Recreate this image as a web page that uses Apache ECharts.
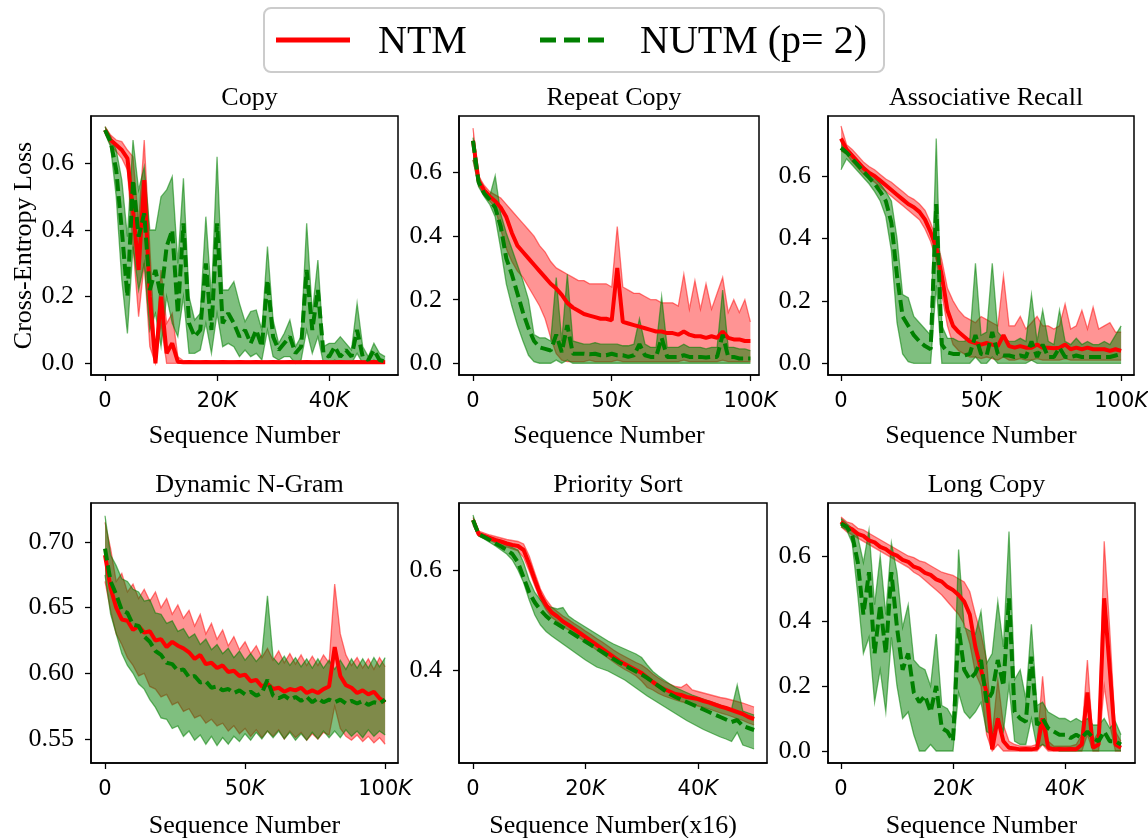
<!DOCTYPE html>
<html><head><meta charset="utf-8">
<script src="https://cdn.jsdelivr.net/npm/echarts@6/dist/echarts.min.js"></script>
<style>html,body{margin:0;padding:0;background:#fff}#c{width:1148px;height:838px}</style>
</head><body><div id="c"></div>
<script>
// ---------------- data ----------------
const xTicks50 = [0, 20000, 40000];
const xTicks100 = [0, 50000, 100000];
const yTicksLoss = [0, 0.2, 0.4, 0.6];
const yTicksNgram = [0.55, 0.60, 0.65, 0.70];
const yTicksSort = [0.4, 0.6];

// Copy (sampled every 1K)
const copyNtmMean = [0.70,0.67,0.655,0.64,0.615,0.46,0.28,0.55,0.20,0.00,
 0.20,0.03,0.06,0.005,0.003,0.004,0.003,0.003,0.004,0.003,
 0.003,0.004,0.003,0.003,0.004,0.003,0.003,0.004,0.003,0.003,
 0.004,0.003,0.003,0.004,0.003,0.003,0.004,0.003,0.003,0.004,
 0.003,0.003,0.004,0.003,0.003,0.004,0.003,0.003,0.004,0.003,0.003];
const copyNtmLo = [0.69,0.655,0.635,0.615,0.58,0.35,0.14,0.30,0.05,0.00,
 0.12,0,0,0,0,0,0,0,0,0, 0,0,0,0,0,0,0,0,0,0, 0,0,0,0,0,0,0,0,0,0, 0,0,0,0,0,0,0,0,0,0, 0];
const copyNtmHi = [0.71,0.685,0.67,0.665,0.64,0.62,0.42,0.67,0.35,0.03,
 0.28,0.12,0.15,0.02,0.008,0.008,0.008,0.008,0.008,0.008,
 0.008,0.008,0.008,0.008,0.008,0.008,0.008,0.008,0.008,0.008,
 0.008,0.008,0.008,0.008,0.008,0.008,0.008,0.008,0.008,0.008,
 0.008,0.008,0.008,0.008,0.008,0.008,0.008,0.008,0.008,0.008,0.008];
const copyNutmMean = [0.70,0.665,0.58,0.40,0.20,0.55,0.38,0.45,0.22,0.28,
 0.20,0.35,0.40,0.15,0.42,0.12,0.08,0.10,0.30,0.10,
 0.42,0.12,0.15,0.12,0.08,0.10,0.06,0.10,0.05,0.25,
 0.08,0.04,0.06,0.08,0.03,0.05,0.28,0.10,0.22,0.03,
 0.02,0.05,0.02,0.04,0.02,0.10,0.02,0.01,0.04,0.01,0.005];
const copyNutmHi = [0.71,0.68,0.64,0.55,0.38,0.67,0.52,0.59,0.40,0.40,
 0.50,0.52,0.56,0.30,0.555,0.20,0.13,0.15,0.44,0.20,
 0.62,0.22,0.22,0.245,0.18,0.125,0.155,0.16,0.10,0.35,
 0.13,0.06,0.09,0.13,0.05,0.08,0.42,0.15,0.31,0.05,
 0.06,0.06,0.08,0.06,0.04,0.18,0.05,0.02,0.06,0.03,0.02];
const copyNutmLo = [0.69,0.65,0.50,0.25,0.09,0.35,0.22,0.30,0.10,0.15,
 0.05,0.20,0.12,0.08,0.20,0.03,0.03,0.04,0.12,0.03,
 0.15,0.05,0.06,0.05,0.02,0.04,0.02,0.03,0.01,0.10,
 0.02,0.01,0.02,0.02,0.00,0.01,0.10,0.03,0.08,0.00,
 0.00,0.01,0.00,0.00,0.00,0.03,0.00,0.00,0.01,0.00,0.00];

// Repeat Copy (sampled every 2K)
const rcNtmMean = [0.70,0.575,0.545,0.525,0.51,0.49,0.46,0.41,0.37,0.35,
 0.33,0.31,0.29,0.27,0.25,0.235,0.215,0.19,0.175,0.165,
 0.155,0.15,0.145,0.14,0.14,0.135,0.30,0.13,0.125,0.12,
 0.115,0.11,0.105,0.10,0.10,0.095,0.095,0.09,0.10,0.09,
 0.085,0.085,0.08,0.085,0.08,0.10,0.08,0.075,0.075,0.07,0.07];
const rcNtmHi = [0.74,0.59,0.56,0.54,0.53,0.52,0.50,0.48,0.46,0.44,
 0.42,0.40,0.37,0.35,0.32,0.30,0.29,0.28,0.27,0.26,
 0.26,0.25,0.25,0.25,0.25,0.24,0.43,0.24,0.23,0.22,
 0.22,0.21,0.20,0.20,0.19,0.19,0.19,0.18,0.28,0.17,
 0.26,0.17,0.25,0.17,0.22,0.27,0.16,0.20,0.16,0.20,0.13];
const rcNtmLo = [0.64,0.56,0.53,0.51,0.49,0.42,0.36,0.32,0.29,0.27,
 0.24,0.21,0.18,0.14,0.08,0.03,0.01,0.005,0.005,0.005,
 0.005,0.01,0.005,0.005,0.005,0.005,0.01,0.005,0.005,0.005,
 0.005,0.005,0.005,0.005,0.005,0.005,0.005,0.005,0.01,0.005,
 0.005,0.005,0.005,0.005,0.005,0.01,0.005,0.005,0.005,0.005,0.005];
const rcNutmMean = [0.70,0.57,0.535,0.515,0.49,0.43,0.33,0.28,0.22,0.16,
 0.11,0.07,0.05,0.045,0.04,0.09,0.035,0.12,0.03,0.03,
 0.03,0.028,0.03,0.025,0.025,0.03,0.025,0.025,0.02,0.025,
 0.06,0.025,0.02,0.02,0.08,0.02,0.02,0.02,0.025,0.02,
 0.02,0.02,0.018,0.02,0.02,0.09,0.02,0.02,0.015,0.015,0.015];
const rcNutmHi = [0.71,0.58,0.545,0.525,0.59,0.47,0.41,0.36,0.31,0.26,
 0.20,0.09,0.08,0.08,0.07,0.27,0.07,0.28,0.07,0.065,
 0.06,0.06,0.065,0.06,0.06,0.06,0.06,0.055,0.055,0.06,
 0.14,0.06,0.05,0.05,0.21,0.05,0.05,0.05,0.06,0.05,
 0.05,0.05,0.045,0.05,0.05,0.23,0.05,0.05,0.045,0.045,0.04];
const rcNutmLo = [0.64,0.555,0.525,0.50,0.46,0.36,0.25,0.18,0.12,0.07,
 0.025,0.005,0,0,0,0.01,0,0.01,0,0,
 0,0,0,0,0,0,0,0,0,0, 0,0,0,0,0,0,0,0,0,0, 0,0,0,0,0,0,0,0,0,0, 0];

// Associative Recall (sampled every 2K)
const arNtmMean = [0.72,0.685,0.665,0.645,0.625,0.61,0.60,0.585,0.57,0.555,
 0.54,0.525,0.51,0.50,0.485,0.46,0.42,0.37,0.28,0.17,
 0.12,0.10,0.085,0.07,0.065,0.06,0.065,0.06,0.055,0.09,
 0.055,0.05,0.055,0.05,0.05,0.06,0.05,0.05,0.048,0.05,
 0.06,0.045,0.05,0.045,0.05,0.045,0.045,0.045,0.04,0.045,0.04];
const arNtmHi = [0.76,0.70,0.685,0.665,0.645,0.63,0.62,0.605,0.59,0.58,
 0.565,0.55,0.535,0.525,0.51,0.49,0.45,0.40,0.33,0.24,
 0.20,0.17,0.15,0.14,0.13,0.15,0.14,0.13,0.12,0.28,
 0.12,0.12,0.15,0.11,0.13,0.15,0.12,0.12,0.11,0.12,
 0.19,0.11,0.12,0.17,0.11,0.18,0.11,0.12,0.13,0.10,0.10];
const arNtmLo = [0.68,0.67,0.645,0.625,0.605,0.59,0.58,0.565,0.55,0.535,
 0.52,0.505,0.49,0.475,0.46,0.43,0.39,0.33,0.22,0.12,
 0.06,0.04,0.03,0.02,0.02,0.015,0.02,0.015,0.01,0.02,
 0.01,0.01,0.015,0.01,0.01,0.015,0.01,0.01,0.01,0.01,
 0.015,0.01,0.01,0.01,0.01,0.01,0.01,0.01,0.01,0.01,0.01];
const arNutmMean = [0.69,0.675,0.655,0.635,0.615,0.595,0.575,0.55,0.52,0.45,
 0.28,0.15,0.12,0.09,0.07,0.055,0.045,0.51,0.06,0.035,
 0.03,0.03,0.025,0.03,0.09,0.03,0.025,0.10,0.03,0.025,
 0.025,0.02,0.025,0.02,0.07,0.02,0.06,0.02,0.02,0.05,
 0.02,0.02,0.025,0.02,0.02,0.02,0.02,0.02,0.02,0.025,0.03];
const arNutmHi = [0.71,0.69,0.67,0.65,0.63,0.615,0.595,0.575,0.55,0.52,
 0.40,0.22,0.21,0.15,0.13,0.11,0.09,0.72,0.12,0.08,
 0.08,0.07,0.07,0.08,0.32,0.09,0.10,0.32,0.10,0.08,
 0.07,0.07,0.08,0.07,0.22,0.07,0.17,0.07,0.06,0.17,
 0.07,0.06,0.08,0.06,0.07,0.06,0.06,0.07,0.06,0.09,0.12];
const arNutmLo = [0.62,0.655,0.635,0.615,0.595,0.575,0.55,0.52,0.47,0.36,
 0.13,0.03,0.005,0,0,0,0,0.25,0,0,
 0,0,0,0,0.02,0,0,0.02,0,0, 0,0,0,0,0.01,0,0,0,0,0, 0,0,0,0,0,0,0,0,0,0, 0];

// Dynamic N-Gram (sampled every 2K)
const ngNtmMean = [0.690,0.665,0.650,0.641,0.640,0.633,0.636,0.631,0.632,0.625,
 0.626,0.620,0.624,0.621,0.619,0.616,0.611,0.614,0.607,0.608,
 0.604,0.606,0.601,0.602,0.598,0.599,0.594,0.595,0.590,0.592,
 0.588,0.589,0.586,0.588,0.587,0.589,0.585,0.587,0.585,0.588,
 0.590,0.620,0.598,0.591,0.589,0.585,0.587,0.584,0.586,0.581,0.578];
const ngNtmHi = [0.715,0.695,0.670,0.676,0.662,0.668,0.657,0.664,0.655,0.662,
 0.650,0.657,0.645,0.652,0.642,0.648,0.636,0.645,0.630,0.638,
 0.626,0.633,0.621,0.628,0.618,0.624,0.615,0.621,0.612,0.619,
 0.610,0.617,0.608,0.615,0.607,0.614,0.606,0.613,0.606,0.614,
 0.608,0.668,0.630,0.614,0.606,0.612,0.604,0.611,0.603,0.612,0.605];
const ngNtmLo = [0.670,0.648,0.630,0.622,0.612,0.606,0.598,0.600,0.590,0.588,
 0.582,0.584,0.576,0.578,0.571,0.573,0.566,0.568,0.562,0.565,
 0.560,0.562,0.556,0.560,0.554,0.558,0.552,0.557,0.551,0.556,
 0.552,0.557,0.550,0.556,0.551,0.555,0.549,0.554,0.550,0.555,
 0.553,0.575,0.558,0.552,0.549,0.553,0.548,0.552,0.547,0.551,0.546];
const ngNutmMean = [0.695,0.670,0.660,0.648,0.646,0.637,0.636,0.628,0.624,0.617,
 0.614,0.608,0.607,0.602,0.603,0.597,0.598,0.593,0.594,0.589,
 0.590,0.587,0.588,0.585,0.587,0.584,0.586,0.583,0.585,0.595,
 0.583,0.581,0.583,0.580,0.582,0.579,0.582,0.578,0.581,0.578,
 0.580,0.578,0.580,0.577,0.579,0.577,0.579,0.576,0.578,0.577,0.580];
const ngNutmHi = [0.720,0.690,0.682,0.672,0.670,0.664,0.662,0.655,0.656,0.646,
 0.645,0.638,0.640,0.632,0.634,0.627,0.630,0.622,0.626,0.618,
 0.622,0.615,0.619,0.612,0.617,0.610,0.615,0.609,0.614,0.659,
 0.612,0.607,0.613,0.606,0.612,0.605,0.611,0.604,0.611,0.604,
 0.610,0.603,0.610,0.603,0.611,0.604,0.611,0.604,0.612,0.605,0.612];
const ngNutmLo = [0.675,0.645,0.630,0.615,0.606,0.600,0.592,0.588,0.580,0.574,
 0.566,0.565,0.558,0.560,0.552,0.556,0.549,0.553,0.546,0.552,
 0.545,0.551,0.546,0.552,0.548,0.554,0.549,0.555,0.550,0.556,
 0.551,0.556,0.550,0.555,0.549,0.554,0.549,0.555,0.550,0.556,
 0.551,0.556,0.551,0.557,0.552,0.556,0.551,0.557,0.552,0.556,0.553];

// Priority Sort (sampled every 1K)
const psNtmMean = [0.70,0.672,0.668,0.664,0.66,0.657,0.653,0.65,0.648,0.64,
 0.612,0.58,0.55,0.53,0.515,0.507,0.497,0.49,0.482,0.474,
 0.466,0.458,0.45,0.442,0.434,0.426,0.418,0.412,0.406,0.40,
 0.394,0.385,0.376,0.368,0.362,0.357,0.352,0.35,0.346,0.344,
 0.342,0.338,0.335,0.331,0.327,0.324,0.32,0.316,0.312,0.306,0.302];
const psNtmHi = [0.705,0.678,0.674,0.670,0.667,0.664,0.661,0.659,0.657,0.652,
 0.628,0.594,0.562,0.541,0.526,0.517,0.508,0.501,0.493,0.486,
 0.478,0.471,0.463,0.456,0.448,0.440,0.433,0.427,0.421,0.415,
 0.410,0.402,0.392,0.384,0.377,0.372,0.367,0.365,0.372,0.360,
 0.357,0.354,0.351,0.348,0.345,0.343,0.340,0.337,0.334,0.330,0.326];
const psNtmLo = [0.695,0.668,0.663,0.659,0.654,0.650,0.646,0.642,0.638,0.625,
 0.598,0.568,0.540,0.520,0.505,0.497,0.487,0.480,0.472,0.464,
 0.456,0.448,0.440,0.432,0.424,0.416,0.408,0.401,0.395,0.388,
 0.378,0.365,0.360,0.353,0.348,0.344,0.340,0.337,0.334,0.331,
 0.328,0.325,0.322,0.318,0.314,0.311,0.307,0.303,0.299,0.294,0.290];
const psNutmMean = [0.70,0.672,0.666,0.66,0.653,0.647,0.64,0.632,0.615,0.585,
 0.555,0.535,0.52,0.508,0.498,0.492,0.485,0.478,0.471,0.464,
 0.457,0.45,0.443,0.436,0.429,0.422,0.415,0.409,0.403,0.397,
 0.391,0.384,0.376,0.368,0.36,0.352,0.346,0.341,0.336,0.331,
 0.326,0.321,0.316,0.311,0.306,0.301,0.296,0.30,0.288,0.284,0.28];
const psNutmHi = [0.71,0.675,0.67,0.665,0.66,0.655,0.65,0.645,0.64,0.615,
 0.58,0.555,0.54,0.53,0.525,0.522,0.525,0.508,0.50,0.493,
 0.486,0.479,0.472,0.465,0.458,0.452,0.447,0.442,0.437,0.432,
 0.425,0.41,0.397,0.388,0.38,0.372,0.365,0.36,0.355,0.35,
 0.346,0.342,0.338,0.334,0.33,0.326,0.322,0.37,0.318,0.314,0.31];
const psNutmLo = [0.69,0.668,0.662,0.655,0.648,0.64,0.632,0.62,0.60,0.575,
 0.54,0.51,0.49,0.477,0.468,0.46,0.452,0.444,0.436,0.428,
 0.42,0.413,0.406,0.402,0.398,0.392,0.386,0.38,0.372,0.364,
 0.356,0.348,0.341,0.334,0.327,0.32,0.313,0.306,0.299,0.293,
 0.287,0.281,0.276,0.271,0.266,0.262,0.257,0.275,0.25,0.246,0.242];

// Long Copy (sampled every 1K)
const lcNtmMean = [0.705,0.69,0.682,0.668,0.662,0.648,0.642,0.628,0.621,0.608,
 0.601,0.588,0.582,0.567,0.561,0.548,0.542,0.528,0.521,0.505,
 0.495,0.48,0.46,0.42,0.32,0.25,0.18,0.005,0.10,0.03,
 0.01,0.008,0.005,0.006,0.005,0.008,0.10,0.01,0.005,0.006,
 0.005,0.006,0.005,0.02,0.18,0.01,0.02,0.47,0.25,0.02,0.01];
const lcNtmHi = [0.72,0.705,0.70,0.685,0.68,0.67,0.66,0.65,0.64,0.63,
 0.62,0.61,0.60,0.595,0.585,0.58,0.57,0.56,0.55,0.545,
 0.54,0.53,0.52,0.49,0.42,0.36,0.28,0.05,0.22,0.08,
 0.03,0.02,0.015,0.015,0.015,0.02,0.23,0.03,0.015,0.015,
 0.015,0.015,0.02,0.05,0.28,0.03,0.06,0.645,0.37,0.06,0.03];
const lcNtmLo = [0.69,0.675,0.665,0.655,0.645,0.635,0.625,0.615,0.605,0.595,
 0.585,0.575,0.565,0.55,0.54,0.525,0.51,0.495,0.48,0.46,
 0.44,0.42,0.39,0.33,0.24,0.20,0.05,0,0.02,0,
 0,0,0,0,0,0,0.02,0,0,0,
 0,0,0,0,0.05,0,0,0.2,0.08,0,0];
const lcNutmMean = [0.70,0.69,0.665,0.58,0.42,0.55,0.30,0.45,0.30,0.55,
 0.38,0.25,0.30,0.18,0.15,0.17,0.12,0.20,0.07,0.06,
 0.03,0.38,0.25,0.22,0.24,0.28,0.15,0.18,0.28,0.20,
 0.47,0.12,0.10,0.09,0.29,0.08,0.10,0.07,0.06,0.05,
 0.05,0.04,0.05,0.04,0.06,0.04,0.03,0.06,0.03,0.03,0.02];
const lcNutmHi = [0.715,0.70,0.685,0.66,0.58,0.68,0.45,0.60,0.42,0.64,
 0.55,0.38,0.45,0.28,0.26,0.25,0.20,0.36,0.14,0.13,
 0.10,0.62,0.38,0.37,0.36,0.43,0.27,0.30,0.46,0.32,
 0.675,0.22,0.25,0.16,0.39,0.14,0.15,0.12,0.11,0.10,
 0.10,0.09,0.10,0.09,0.10,0.08,0.08,0.10,0.07,0.09,0.05];
const lcNutmLo = [0.69,0.68,0.64,0.48,0.30,0.35,0.15,0.25,0.12,0.35,
 0.20,0.10,0.12,0.05,0,0,0.02,0,0,0,
 0,0.18,0.12,0.10,0.12,0.15,0.06,0.05,0.10,0.06,
 0.20,0.03,0.02,0.02,0.10,0.01,0.02,0.01,0.01,0,
 0,0,0,0,0,0,0,0,0,0,0];

// ---------------- chart ----------------
const RED = '#ff0000', GREEN = '#008000';
const SERIF = 'Liberation Serif';

const panels = [
  {title:'Copy', xName:'Sequence Number', box:[91,116,307,259], xr:[-2500,52300], yr:[-0.035,0.742], xt:xTicks50, yt:yTicksLoss, yd:1, step:1000, ntm:[copyNtmMean,copyNtmLo,copyNtmHi], nutm:[copyNutmMean,copyNutmLo,copyNutmHi], yName:'Cross-Entropy Loss'},
  {title:'Repeat Copy', xName:'Sequence Number', box:[459,116,300,259], xr:[-5050,103100], yr:[-0.037,0.778], xt:xTicks100, yt:yTicksLoss, yd:1, step:2000, ntm:[rcNtmMean,rcNtmLo,rcNtmHi], nutm:[rcNutmMean,rcNutmLo,rcNutmHi]},
  {title:'Associative Recall', xName:'Sequence Number', box:[828,116,306,259], xr:[-4640,104600], yr:[-0.0375,0.792], xt:xTicks100, yt:yTicksLoss, yd:1, step:2000, ntm:[arNtmMean,arNtmLo,arNtmHi], nutm:[arNutmMean,arNutmLo,arNutmHi]},
  {title:'Dynamic N-Gram', xName:'Sequence Number', box:[91,503,307,260], xr:[-5000,104600], yr:[0.5317,0.7297], xt:xTicks100, yt:yTicksNgram, yd:2, step:2000, ntm:[ngNtmMean,ngNtmLo,ngNtmHi], nutm:[ngNutmMean,ngNutmLo,ngNutmHi]},
  {title:'Priority Sort', xName:'Sequence Number(x16)', box:[459,503,308,260], xr:[-2490,52300], yr:[0.214,0.734], xt:xTicks50, yt:yTicksSort, yd:1, step:1000, ntm:[psNtmMean,psNtmLo,psNtmHi], nutm:[psNutmMean,psNutmLo,psNutmHi]},
  {title:'Long Copy', xName:'Sequence Number', box:[828,503,307,260], xr:[-2320,52500], yr:[-0.037,0.763], xt:xTicks50, yt:yTicksLoss, yd:1, step:1000, ntm:[lcNtmMean,lcNtmLo,lcNtmHi], nutm:[lcNutmMean,lcNutmLo,lcNutmHi]}
];

const grids = [], xAxes = [], yAxes = [], titles = [], bandSeries = [], meanSeries = [];

function xLabel(v){ return v === 0 ? '{n|0}' : '{n|' + (v/1000) + '}{k|K}'; }

// shaded min/max band, drawn through the axes' own coordinate conversion
function bandRenderer(xs, lo, hi, fill, edge){
  return function(params, api){
    if (params.dataIndex !== 0) return null;
    const up = xs.map((x, k) => api.coord([x, hi[k]]));
    const dn = xs.map((x, k) => api.coord([x, lo[k]]));
    const cs = params.coordSys;
    return {type:'group',
      clipPath:{type:'rect', shape:{x:cs.x, y:cs.y, width:cs.width, height:cs.height}},
      children:[
        {type:'polygon', shape:{points: up.concat(dn.slice().reverse())}, style:{fill:fill, stroke:null}},
        {type:'polyline', shape:{points:up}, style:{stroke:edge, lineWidth:1.3, fill:null}},
        {type:'polyline', shape:{points:dn}, style:{stroke:edge, lineWidth:1.3, fill:null}}
      ]};
  };
}

const AXLINE = {show:true, onZero:false, lineStyle:{color:'#000', width:1.5}};

panels.forEach((p, i) => {
  const [l, t, w, h] = p.box;
  grids.push({left:l, top:t, width:w, height:h, show:true, borderColor:'#000', borderWidth:1.5,
              backgroundColor:'rgba(0,0,0,0)', containLabel:false, outerBoundsMode:'none'});
  xAxes.push({type:'value', gridIndex:i, min:p.xr[0], max:p.xr[1], position:'bottom',
    axisLine:AXLINE, splitLine:{show:false},
    axisTick:{show:true, inside:false, customValues:p.xt, length:6, lineStyle:{color:'#000', width:1.3}},
    axisLabel:{customValues:p.xt, margin:16, color:'#000', fontFamily:'DejaVu Sans', fontSize:21,
      formatter:xLabel,
      rich:{n:{fontFamily:'DejaVu Sans', fontSize:21, color:'#000'},
            k:{fontFamily:'DejaVu Sans', fontSize:21, fontStyle:'italic', color:'#000'}}},
    name:p.xName, nameLocation:'middle', nameGap: i < 3 ? 48 : 50,
    nameTextStyle:{fontFamily:SERIF, fontSize:26, color:'#000'}});
  const ya = {type:'value', gridIndex:i, min:p.yr[0], max:p.yr[1], position:'left',
    axisLine:AXLINE, splitLine:{show:false},
    axisTick:{show:true, inside:false, customValues:p.yt, length:6, lineStyle:{color:'#000', width:1.3}},
    axisLabel:{customValues:p.yt, margin:17, color:'#000', fontFamily:SERIF, fontSize:26,
      formatter:(v) => Number(v).toFixed(p.yd)}};
  if (p.yName) {
    ya.name = p.yName; ya.nameLocation = 'middle'; ya.nameRotate = 90; ya.nameGap = 53;
    ya.nameTextStyle = {fontFamily:SERIF, fontSize:26, color:'#000'};
  }
  yAxes.push(ya);
  titles.push({text:p.title, left:l + w/2, top: t - 36, textAlign:'center',
    textStyle:{fontFamily:SERIF, fontSize:26, fontWeight:'normal', color:'#000'}});

  const xs = p.ntm[0].map((_, k) => k * p.step);
  const groups = [
    {name:'NTM', d:p.ntm, line:RED, edge:'rgba(255,0,0,0.5)', fill:'rgba(255,0,0,0.42)', dash:'solid'},
    {name:'NUTM (p= 2)', d:p.nutm, line:GREEN, edge:'rgba(0,128,0,0.55)', fill:'rgba(0,128,0,0.5)', dash:[12,5]}
  ];
  groups.forEach((g) => {
    const [mean, lo, hi] = g.d;
    bandSeries.push({type:'custom', name:g.name + ' band', xAxisIndex:i, yAxisIndex:i, silent:true,
      data:xs.map((x, k) => [x, lo[k], hi[k]]), encode:{x:0, y:[1, 2]},
      renderItem:bandRenderer(xs, lo, hi, g.fill, g.edge)});
    meanSeries.push({type:'line', name:g.name, xAxisIndex:i, yAxisIndex:i,
      symbol:'none', silent:true, data:xs.map((x, k) => [x, mean[k]]),
      lineStyle:{color:g.line, width:4, type:g.dash}});
  });
});

const chart = echarts.init(document.getElementById('c'), null, {renderer:'canvas'});
chart.setOption({
  animation:false,
  backgroundColor:'#fff',
  title:titles,
  grid:grids, xAxis:xAxes, yAxis:yAxes,
  series:bandSeries.concat(meanSeries),
  graphic:[
    {type:'rect', shape:{x:264, y:8, width:620, height:64, r:7}, style:{fill:'#fff', stroke:'#cccccc', lineWidth:2}},
    {type:'line', shape:{x1:276, y1:40, x2:350, y2:40}, style:{stroke:RED, lineWidth:5}},
    {type:'text', x:378, y:42, style:{text:'NTM', fontFamily:SERIF, fontSize:40, fill:'#000', verticalAlign:'middle'}},
    {type:'line', shape:{x1:540, y1:40, x2:612, y2:40}, style:{stroke:GREEN, lineWidth:5, lineDash:[16,8]}},
    {type:'text', x:640, y:42, style:{text:'NUTM (p= 2)', fontFamily:SERIF, fontSize:40, fill:'#000', verticalAlign:'middle'}}
  ]
});
</script></body></html>
